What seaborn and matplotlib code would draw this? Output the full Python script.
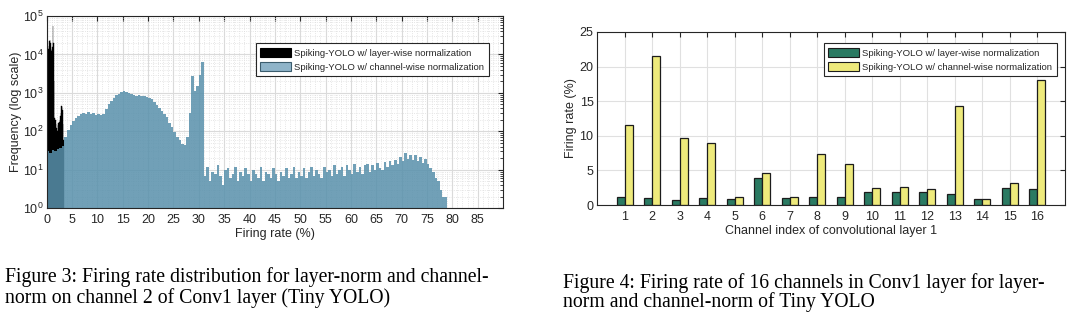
import numpy as np
import pandas as pd
import matplotlib
matplotlib.use("Agg")
import matplotlib.pyplot as plt
import seaborn as sns
from matplotlib.patches import Patch
from matplotlib.ticker import MultipleLocator, LogLocator, NullFormatter

# ---------------- data ----------------
series_names = ["Spiking-YOLO w/ layer-wise normalization",
                "Spiking-YOLO w/ channel-wise normalization"]

# Figure 3: histogram of firing rate (%), counts per bin
layer_bin_width = 0.1      # layer-wise bins start at 0 %
layer_counts = [5000, 9000, 12000, 14000, 17000, 22000, 24000, 20000, 13000, 12000,
                14000, 16000, 55000, 20000, 2000, 220, 180, 200, 160, 120,
                90, 100, 150, 170, 140, 180, 200, 250, 300, 450,
                420, 350, 160, 60]

channel_bin_width = 0.5    # channel-wise bins start at 0 %
channel_counts = [30, 28, 32, 30, 34, 38, 42, 70, 110, 150,
                  190, 225, 250, 280, 300, 285, 310, 290, 300, 270,
                  290, 260, 290, 390, 500, 620, 720, 860, 950, 1050,
                  1150, 1080, 1020, 950, 900, 840, 880, 820, 850, 790,
                  760, 690, 580, 480, 400, 330, 280, 230, 170, 130,
                  95, 70, 58, 48, 45, 70, 300, 2800, 1100, 1500,
                  3000, 6500,
                  7, 12, 5, 9, 8, 13, 7, 4, 10, 11,
                  6, 8, 12, 5, 9, 7, 11, 8, 5, 10,
                  8, 6, 12, 5, 9, 8, 6, 11, 8, 5,
                  9, 7, 11, 6, 8, 12, 6, 9, 7, 11,
                  6, 9, 12, 7, 10, 8, 6, 12, 9, 10,
                  7, 13, 8, 10, 12, 7, 13, 10, 8, 14,
                  9, 12, 8, 13, 14, 9, 13, 10, 15, 11,
                  10, 16, 12, 17, 13, 18, 14, 21, 17, 27,
                  19, 25, 18, 24, 17, 22, 15, 19, 14, 11,
                  9, 6, 5, 3, 2, 2]

hist_xticks = list(range(0, 90, 5))

# Figure 4: firing rate (%) of the 16 channels
channels = list(range(1, 17))
layer_rate = [1.2, 0.96, 0.67, 0.96, 0.87, 3.85, 0.96, 1.1,
              1.1, 1.83, 1.92, 1.83, 1.63, 0.87, 2.4, 2.31]
channel_rate = [11.63, 21.59, 9.71, 8.89, 1.1, 4.57, 1.1, 7.31,
                5.91, 2.4, 2.55, 2.36, 14.33, 0.87, 3.13, 18.08]

caption3 = ["Figure 3: Firing rate distribution for layer-norm and channel-",
            "norm on channel 2 of Conv1 layer (Tiny YOLO)"]
caption4 = ["Figure 4: Firing rate of 16 channels in Conv1 layer for layer-",
            "norm and channel-norm of Tiny YOLO"]

# ---------------- style ----------------
sns.set_theme(style="white")
plt.rcParams["font.family"] = ["Liberation Sans", "DejaVu Sans"]
plt.rcParams["mathtext.fontset"] = "custom"
plt.rcParams["mathtext.rm"] = "Liberation Sans"
plt.rcParams["mathtext.it"] = "Liberation Sans:italic"

TXT = "#262626"
BLUE = "#5890ab"
GREEN = "#2a7a62"
YELLOW = "#eeea7c"
FS = 9

W, H = 1084, 328
fig = plt.figure(figsize=(W / 100, H / 100), dpi=100)
fig.patch.set_facecolor("white")

ax1 = fig.add_axes([46.7 / W, 1 - 208.3 / H, (503 - 46.7) / W, (208.3 - 16) / H])
ax2 = fig.add_axes([597 / W, 1 - 205 / H, (1065 - 597) / W, (205 - 32) / H])

# ---------------- left: histogram ----------------
layer_edges = [round(i * layer_bin_width, 3) for i in range(len(layer_counts) + 1)]
chan_edges = [round(i * channel_bin_width, 3) for i in range(len(channel_counts) + 1)]
layer_df = pd.DataFrame({"rate": [e + layer_bin_width / 2 for e in layer_edges[:-1]],
                         "count": layer_counts})
chan_df = pd.DataFrame({"rate": [e + channel_bin_width / 2 for e in chan_edges[:-1]],
                        "count": channel_counts})

sns.histplot(data=layer_df, x="rate", weights="count", bins=layer_edges, ax=ax1,
             color="black", alpha=1.0, linewidth=0.3, edgecolor="black")
sns.histplot(data=chan_df, x="rate", weights="count", bins=chan_edges, ax=ax1,
             color=BLUE, alpha=0.85, linewidth=0)
ax1.set_yscale("log")
ax1.set_ylim(1, 1e5)
ax1.set_xlim(0, 90)
ax1.set_xticks(hist_xticks)
ax1.xaxis.set_minor_locator(MultipleLocator(1))
ax1.yaxis.set_major_locator(LogLocator(base=10, numticks=10))
ax1.yaxis.set_minor_locator(LogLocator(base=10, subs=np.arange(2, 10), numticks=50))
ax1.yaxis.set_minor_formatter(NullFormatter())
ax1.set_axisbelow(True)
ax1.grid(which="major", color="#dadada", lw=0.8, ls="-")
ax1.grid(which="minor", color="#dedede", lw=0.6, ls=":")
ax1.tick_params(which="both", direction="in", top=True, right=True, color=TXT,
                labelcolor=TXT, labelsize=FS)
ax1.tick_params(axis="x", which="major", length=3.5, width=0.8, pad=4)
ax1.tick_params(axis="x", which="minor", length=0)
ax1.tick_params(axis="y", which="major", length=3.5, width=0.8, pad=2.5)
ax1.tick_params(axis="y", which="minor", length=2, width=0.6)
for s in ax1.spines.values():
    s.set_color(TXT)
    s.set_linewidth(0.8)
ax1.set_xlabel("Firing rate (%)", fontsize=FS, color=TXT, labelpad=1.5)
ax1.set_ylabel("Frequency (log scale)", fontsize=FS, color=TXT, labelpad=0.5)

legend_kw = dict(loc="upper right", bbox_transform=fig.transFigure,
                 fontsize=6.8, frameon=True, fancybox=False, framealpha=1,
                 edgecolor=TXT, handlelength=3.3, handleheight=1.15,
                 borderpad=0.5, labelspacing=0.45, handletextpad=0.3, borderaxespad=0)

h1 = [Patch(facecolor="black", edgecolor="black", lw=0.8),
      Patch(facecolor="#8fb4c9", edgecolor="#3c5d6e", lw=0.8)]
leg1 = ax1.legend(h1, series_names, bbox_to_anchor=(489 / W, 1 - 43 / H), **legend_kw)
leg1.get_frame().set_linewidth(0.8)

# ---------------- right: grouped bars ----------------
df = pd.DataFrame({
    "channel": channels * 2,
    "rate": layer_rate + channel_rate,
    "method": [series_names[0]] * len(channels) + [series_names[1]] * len(channels),
})
sns.barplot(data=df, x="channel", y="rate", hue="method", hue_order=series_names,
            palette=[GREEN, YELLOW], saturation=1, width=0.58, gap=0,
            edgecolor="#1c1c1c", linewidth=0.9, ax=ax2, legend=False)
ax2.set_xlim(-1, 16)
ax2.set_ylim(0, 25)
ax2.set_yticks(range(0, 26, 5))
ax2.set_axisbelow(True)
ax2.grid(which="major", color="#e0e0e0", lw=0.8)
ax2.tick_params(which="both", direction="in", top=True, right=True, color=TXT,
                labelcolor=TXT, labelsize=FS, length=3.5, width=0.8)
ax2.tick_params(axis="x", pad=4)
ax2.tick_params(axis="y", pad=2.5)
for s in ax2.spines.values():
    s.set_color(TXT)
    s.set_linewidth(0.8)
ax2.set_xlabel("Channel index of convolutional layer 1", fontsize=FS, color=TXT, labelpad=1.5)
ax2.set_ylabel("Firing rate (%)", fontsize=FS, color=TXT, labelpad=2)

h2 = [Patch(facecolor=GREEN, edgecolor="#1c1c1c", lw=0.8),
      Patch(facecolor=YELLOW, edgecolor="#1c1c1c", lw=0.8)]
leg2 = ax2.legend(h2, series_names, bbox_to_anchor=(1057 / W, 1 - 43 / H), **legend_kw)
leg2.get_frame().set_linewidth(0.8)

# ---------------- captions ----------------
cap_kw = dict(family=["Liberation Serif", "DejaVu Serif"], fontsize=14.2, color="black",
              va="baseline", ha="left")
fig.text(5 / W, 1 - 282 / H, caption3[0], **cap_kw)
fig.text(5 / W, 1 - 303 / H, caption3[1], **cap_kw)
fig.text(563 / W, 1 - 288 / H, caption4[0], **cap_kw)
fig.text(563 / W, 1 - 307 / H, caption4[1], **cap_kw)

fig.savefig("out.png", dpi=100)
